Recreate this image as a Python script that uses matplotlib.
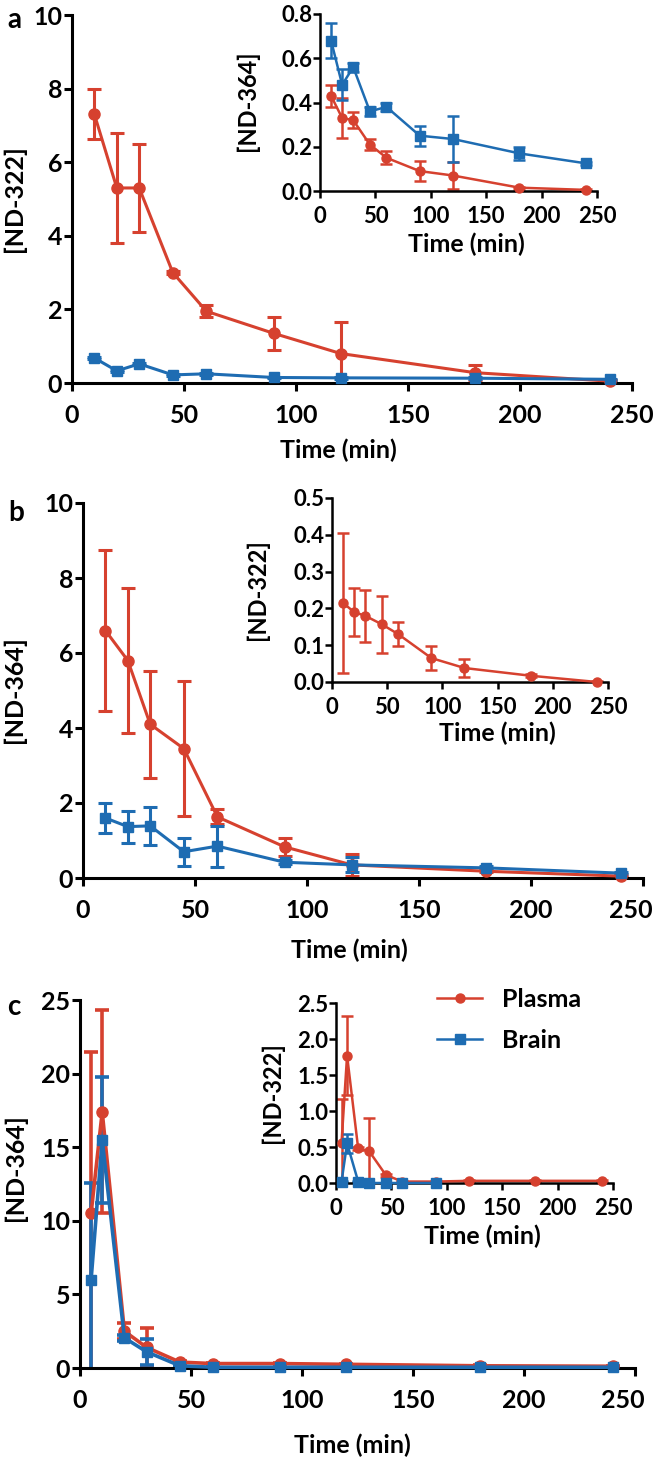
import matplotlib
matplotlib.use('Agg')
import matplotlib.pyplot as plt
import matplotlib.transforms as mtransforms

plt.rcParams['font.family'] = ['Lato', 'DejaVu Sans']
plt.rcParams['font.weight'] = 'bold'

RED = '#D6412F'
BLUE = '#1E6CB2'

# ---------------- data ----------------
# Panel a (main): [ND-322]
a_time = [10, 20, 30, 45, 60, 90, 120, 180, 240]
a_plasma = [7.3, 5.3, 5.3, 3.0, 1.95, 1.35, 0.8, 0.28, 0.05]
a_plasma_err = [0.68, 1.5, 1.2, 0.05, 0.17, 0.45, 0.85, 0.22, 0.03]
a_brain = [0.68, 0.33, 0.52, 0.22, 0.25, 0.15, 0.14, 0.13, 0.1]
a_brain_err = [0.03, 0.03, 0.03, 0.02, 0.02, 0.02, 0.02, 0.02, 0.02]
# Panel a (inset): [ND-364]
ai_plasma = [0.43, 0.33, 0.32, 0.21, 0.15, 0.09, 0.07, 0.015, 0.005]
ai_plasma_err = [0.05, 0.09, 0.035, 0.025, 0.03, 0.045, 0.06, 0.005, 0.003]
ai_brain = [0.68, 0.48, 0.56, 0.36, 0.38, 0.25, 0.235, 0.17, 0.125]
ai_brain_err = [0.08, 0.07, 0.02, 0.02, 0.02, 0.045, 0.105, 0.03, 0.008]

# Panel b (main): [ND-364]
b_time = [10, 20, 30, 45, 60, 90, 120, 180, 240]
b_plasma = [6.6, 5.8, 4.1, 3.45, 1.63, 0.83, 0.35, 0.18, 0.05]
b_plasma_err = [2.15, 1.93, 1.43, 1.8, 0.2, 0.25, 0.3, 0.03, 0.02]
b_brain = [1.6, 1.37, 1.39, 0.7, 0.85, 0.42, 0.35, 0.27, 0.13]
b_brain_err = [0.4, 0.43, 0.5, 0.38, 0.55, 0.05, 0.2, 0.05, 0.03]
# Panel b (inset): [ND-322]
bi_plasma = [0.215, 0.19, 0.18, 0.157, 0.13, 0.065, 0.038, 0.017, 0.0]
bi_plasma_err = [0.19, 0.065, 0.07, 0.077, 0.033, 0.033, 0.025, 0.004, 0.002]

# Panel c (main): [ND-364]
c_time = [5, 10, 20, 30, 45, 60, 90, 120, 180, 240]
c_plasma = [10.5, 17.4, 2.5, 1.4, 0.4, 0.3, 0.3, 0.25, 0.15, 0.12]
c_plasma_err = [11.0, 6.9, 0.55, 1.3, 0.1, 0.05, 0.05, 0.05, 0.03, 0.03]
c_brain = [6.0, 15.5, 2.05, 1.1, 0.15, 0.05, 0.05, 0.05, 0.05, 0.05]
c_brain_err = [6.6, 4.3, 0.2, 0.9, 0.05, 0.03, 0.03, 0.03, 0.03, 0.03]
# Panel c (inset): [ND-322]
ci_time_plasma = [5, 10, 20, 30, 45, 60, 90, 120, 180, 240]
ci_plasma = [0.56, 1.77, 0.48, 0.44, 0.11, 0.02, 0.02, 0.03, 0.03, 0.03]
ci_plasma_err = [0.6, 0.55, 0.02, 0.46, 0.02, 0.01, 0.01, 0.01, 0.01, 0.01]
ci_time_brain = [5, 10, 20, 30, 45, 60, 90]
ci_brain = [0.02, 0.55, 0.02, 0.0, 0.0, 0.0, 0.0]
ci_brain_err = [0.01, 0.13, 0.01, 0.0, 0.0, 0.0, 0.0]

x_ticks = [0, 50, 100, 150, 200, 250]

# ---------------- figure ----------------
W, H = 653, 1463
fig = plt.figure(figsize=(W / 100, H / 100), dpi=100)


def box(x0, ytop, x1, ybot):
    return [x0 / W, 1 - ybot / H, (x1 - x0) / W, (ybot - ytop) / H]


def ftext(px, py, s, **kw):
    fig.text(px / W, 1 - py / H, s, ha='center', va='center',
             fontweight='bold', **kw)


def style(ax, ymax, yticks, ylabels, fs, lw, tl, ypad, xpad):
    ax.set_xlim(0, 250)
    ax.set_ylim(0, ymax)
    ax.set_xticks(x_ticks)
    ax.set_yticks(yticks)
    ax.set_yticklabels(ylabels)
    for s in ['top', 'right']:
        ax.spines[s].set_visible(False)
    for s in ['left', 'bottom']:
        ax.spines[s].set_linewidth(lw)
    ax.tick_params(axis='both', direction='out', length=tl, width=lw,
                   labelsize=fs)
    ax.tick_params(axis='y', pad=ypad)
    ax.tick_params(axis='x', pad=xpad)
    for lab in ax.get_xticklabels() + ax.get_yticklabels():
        lab.set_fontweight('bold')


def shift_last_xlabel(ax, dx_px):
    lab = ax.xaxis.get_major_ticks()[-1].label1
    lab.set_transform(lab.get_transform() +
                      mtransforms.ScaledTranslation(dx_px / 100, 0, fig.dpi_scale_trans))


def series(ax, t, y, e, color, marker, ms, lw, cap, label=None):
    ax.errorbar(t, y, yerr=e, fmt='none', ecolor=color, elinewidth=lw,
                capsize=cap, capthick=lw, zorder=2)
    ax.plot(t, y, color=color, marker=marker, ms=ms, lw=lw, mec=color,
            mfc=color, clip_on=False, zorder=3, label=label)


# Panel a main
ax = fig.add_axes(box(72, 15, 632, 383))
series(ax, a_time, a_plasma, a_plasma_err, RED, 'o', 8, 2.2, 5)
series(ax, a_time, a_brain, a_brain_err, BLUE, 's', 7.5, 2.2, 5)
style(ax, 10, [0, 2, 4, 6, 8, 10], ['0', '2', '4', '6', '8', '10'], 18, 2.2, 6, 1, 9)
ftext(14, 199, '[ND-322]', fontsize=18, rotation=90)
ftext(338, 450, 'Time (min)', fontsize=18)
ftext(14, 20, 'a', fontsize=20)

# Panel a inset
ax = fig.add_axes(box(320, 14, 597, 191))
series(ax, a_time, ai_plasma, ai_plasma_err, RED, 'o', 6.5, 1.8, 4)
series(ax, a_time, ai_brain, ai_brain_err, BLUE, 's', 6.5, 1.8, 4)
style(ax, 0.8, [0, 0.2, 0.4, 0.6, 0.8], ['0.0', '0.2', '0.4', '0.6', '0.8'], 16, 1.8, 5, 0.5, 6)
ftext(247, 101, '[ND-364]', fontsize=17, rotation=90)
ftext(466, 244, 'Time (min)', fontsize=18)

# Panel b main
ax = fig.add_axes(box(83, 503, 643, 878))
series(ax, b_time, b_plasma, b_plasma_err, RED, 'o', 8, 2.2, 5)
series(ax, b_time, b_brain, b_brain_err, BLUE, 's', 7.5, 2.2, 5)
style(ax, 10, [0, 2, 4, 6, 8, 10], ['0', '2', '4', '6', '8', '10'], 18, 2.2, 6, 1, 9)
shift_last_xlabel(ax, -12)
ftext(14, 690, '[ND-364]', fontsize=18, rotation=90)
ftext(349, 950, 'Time (min)', fontsize=18)
ftext(16, 513, 'b', fontsize=20)

# Panel b inset
ax = fig.add_axes(box(332, 498, 608, 682))
series(ax, b_time, bi_plasma, bi_plasma_err, RED, 'o', 6.5, 1.8, 4)
style(ax, 0.5, [0, 0.1, 0.2, 0.3, 0.4, 0.5],
      ['0.0', '0.1', '0.2', '0.3', '0.4', '0.5'], 16, 1.8, 5, 0.5, 6)
ftext(257, 590, '[ND-322]', fontsize=17, rotation=90)
ftext(497, 733, 'Time (min)', fontsize=18)

# Panel c main
ax = fig.add_axes(box(80, 1000, 635, 1368))
series(ax, c_time, c_plasma, c_plasma_err, RED, 'o', 8, 2.6, 5)
series(ax, c_time, c_brain, c_brain_err, BLUE, 's', 7.5, 2.6, 5)
style(ax, 25, [0, 5, 10, 15, 20, 25], ['0', '5', '10', '15', '20', '25'], 18, 2.2, 6, 1, 9)
shift_last_xlabel(ax, -12)
ftext(15, 1168, '[ND-364]', fontsize=18, rotation=90)
ftext(352, 1445, 'Time (min)', fontsize=18)
ftext(14, 1007, 'c', fontsize=20)

# Panel c inset
ax = fig.add_axes(box(336, 1003, 613, 1183))
series(ax, ci_time_plasma, ci_plasma, ci_plasma_err, RED, 'o', 6.5, 1.8, 4, 'Plasma')
series(ax, ci_time_brain, ci_brain, ci_brain_err, BLUE, 's', 6.5, 1.8, 4, 'Brain')
style(ax, 2.5, [0, 0.5, 1.0, 1.5, 2.0, 2.5],
      ['0.0', '0.5', '1.0', '1.5', '2.0', '2.5'], 16, 1.8, 5, 0.5, 6)
ftext(272, 1093, '[ND-322]', fontsize=17, rotation=90)
ftext(482, 1236, 'Time (min)', fontsize=18)
ax.legend(loc='upper left', bbox_to_anchor=(437 / W, 1 - 988 / H),
          bbox_transform=fig.transFigure, frameon=False,
          handlelength=1.8, handletextpad=0.8, labelspacing=0.7,
          borderaxespad=0, borderpad=0, prop={'weight': 'bold', 'size': 18})

fig.savefig('out.png', dpi=100)
